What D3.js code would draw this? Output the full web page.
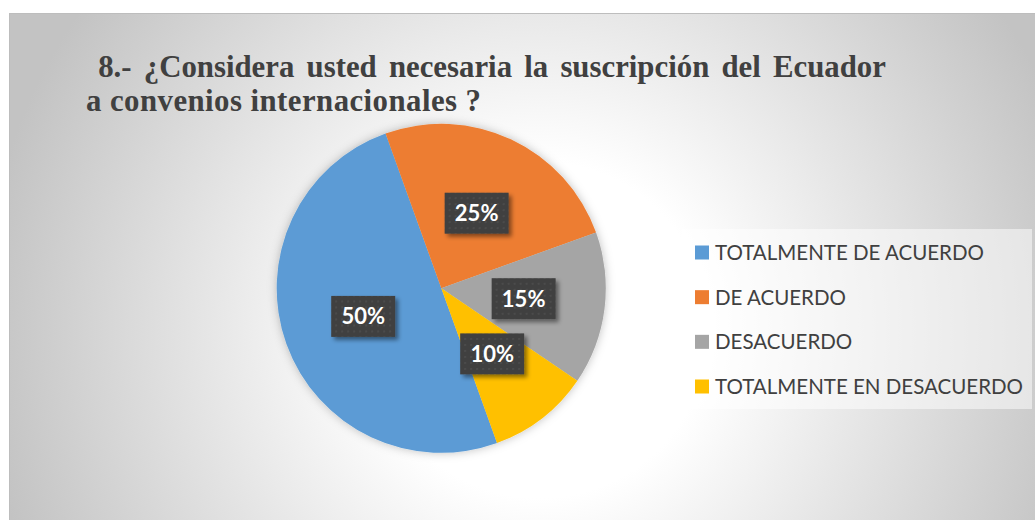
<!DOCTYPE html>
<html>
<head>
<meta charset="utf-8">
<script src="https://cdn.jsdelivr.net/npm/d3@7"></script>
<style>
  body { margin: 0; background: #fff; }
</style>
</head>
<body>
<div id="chart-area"></div>
<script>
// datos de la pregunta 8
let categories = ["TOTALMENTE DE ACUERDO", "DE ACUERDO", "DESACUERDO", "TOTALMENTE EN DESACUERDO"];
let values = [50, 25, 15, 10];
let colors = ["#5B9BD5", "#ED7D31", "#A5A5A5", "#FFC000"];
let titleLines = [" 8.- ¿Considera usted necesaria la suscripción del Ecuador", "a convenios internacionales ?"];

let svgW = 1035;
let svgH = 520;

let cx = 441.3;
let cy = 288.3;
let radius = 164.5;

let svg = d3.select("#chart-area")
  .append("svg")
  .attr("width", svgW)
  .attr("height", svgH)

let defs = svg.append("defs")

let grad = defs.append("radialGradient")
  .attr("id", "bg")
  .attr("gradientUnits", "userSpaceOnUse")
  .attr("cx", 540).attr("cy", 330).attr("r", 560)
grad.append("stop").attr("offset", "0").attr("stop-color", "#ffffff")
grad.append("stop").attr("offset", "0.3").attr("stop-color", "#ffffff")
grad.append("stop").attr("offset", "1").attr("stop-color", "#c3c3c3")

let pieShadow = defs.append("filter").attr("id", "pieShadow")
  .attr("x", "-20%").attr("y", "-20%").attr("width", "140%").attr("height", "140%")
pieShadow.append("feDropShadow")
  .attr("dx", 0).attr("dy", 0).attr("stdDeviation", 5)
  .attr("flood-color", "#000").attr("flood-opacity", 0.25)

let boxShadow = defs.append("filter").attr("id", "boxShadow")
  .attr("x", "-30%").attr("y", "-30%").attr("width", "160%").attr("height", "160%")
boxShadow.append("feDropShadow")
  .attr("dx", 3).attr("dy", 3).attr("stdDeviation", 2)
  .attr("flood-color", "#000").attr("flood-opacity", 0.45)

let dots = defs.append("pattern").attr("id", "dots")
  .attr("patternUnits", "userSpaceOnUse")
  .attr("width", 6).attr("height", 6)
dots.append("rect").attr("width", 6).attr("height", 6).attr("fill", "#404040")
dots.append("circle").attr("cx", 3).attr("cy", 3).attr("r", 0.8).attr("fill", "#585858")

// fondo del area del grafico
svg.append("rect")
  .attr("x", 9.5).attr("y", 13.5)
  .attr("width", svgW).attr("height", svgH)
  .attr("fill", "url(#bg)")
  .attr("stroke", "#bdbdbd")

// titulo
svg.append("g").selectAll("text")
  .data(titleLines)
  .enter()
  .append("text")
  .attr("x", 86)
  .attr("y", (d, i) => 77 + i * 34)
  .attr("font-family", "Liberation Serif, Times New Roman, serif")
  .attr("font-weight", "bold")
  .attr("font-size", 30.8)
  .attr("word-spacing", (d, i) => i == 0 ? 4.5 : 0)
  .attr("letter-spacing", (d, i) => i == 0 ? 0 : 0.45)
  .attr("fill", "#404040")
  .style("white-space", "pre")
  .text(d => d)

// pie
let startA = 160.2 * Math.PI / 180;
let pie = d3.pie()
  .sort(null)
  .startAngle(startA)
  .endAngle(startA + 2 * Math.PI)

let arcs = pie(values)

let arc = d3.arc().innerRadius(0).outerRadius(radius)
let labelArc = d3.arc().innerRadius(83).outerRadius(83)

let group = svg.append("g")
  .attr("transform", `translate(${cx},${cy})`)

group.append("g")
  .attr("filter", "url(#pieShadow)")
  .selectAll("path")
  .data(arcs)
  .enter()
  .append("path")
  .attr("d", arc)
  .attr("fill", (d, i) => colors[i])

let labels = group.selectAll("g.lbl")
  .data(arcs)
  .enter()
  .append("g")
  .attr("class", "lbl")
  .attr("transform", d => `translate(${labelArc.centroid(d)})`)

let boxW = 64, boxH = 41;
labels.append("rect")
  .attr("x", -boxW / 2).attr("y", -boxH / 2)
  .attr("width", boxW).attr("height", boxH)
  .attr("fill", "url(#dots)")
  .attr("filter", "url(#boxShadow)")

labels.append("text")
  .attr("text-anchor", "middle")
  .attr("dy", "0.36em")
  .attr("font-family", "Lato, Open Sans, sans-serif")
  .attr("font-weight", "bold")
  .attr("font-size", 22)
  .attr("fill", "#fff")
  .text((d, i) => values[i] + "%")

// leyenda
let legend = svg.append("g")

legend.append("rect")
  .attr("x", 682).attr("y", 229)
  .attr("width", 350).attr("height", 180)
  .attr("fill", "#fff")
  .attr("fill-opacity", 0.5)

let rowY = d3.scalePoint()
  .domain(categories)
  .range([252.5, 386.5])

let rows = legend.selectAll("g.row")
  .data(categories)
  .enter()
  .append("g")
  .attr("class", "row")
  .attr("transform", d => `translate(695,${rowY(d)})`)

rows.append("rect")
  .attr("x", 0).attr("y", -7)
  .attr("width", 14).attr("height", 14)
  .attr("fill", (d, i) => colors[i])

rows.append("text")
  .attr("x", 20)
  .attr("dy", "0.36em")
  .attr("font-family", "Lato, Open Sans, sans-serif")
  .attr("font-size", 20.5)
  .attr("fill", "#404040")
  .text(d => d)
</script>
</body>
</html>
